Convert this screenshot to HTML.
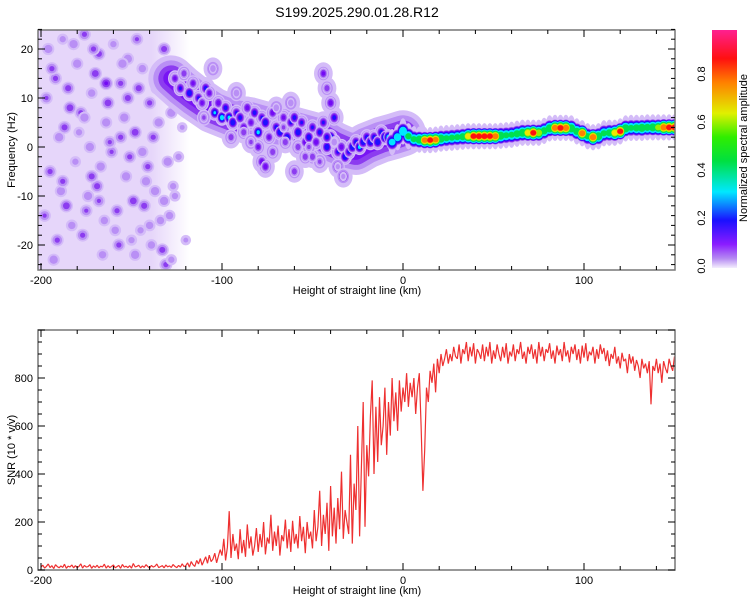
<!DOCTYPE html>
<html><head><meta charset="utf-8"><style>
body{margin:0;background:#fff;}
svg{display:block;font-family:"Liberation Sans",sans-serif;}
</style></head><body>
<svg id="c" width="750" height="600" xmlns="http://www.w3.org/2000/svg">
<defs>
<linearGradient id="cbg" x1="0" y1="1" x2="0" y2="0">
<stop offset="0" stop-color="#f4eefd"/><stop offset="0.04" stop-color="#b58af2"/><stop offset="0.1" stop-color="#8a1cff"/>
<stop offset="0.2" stop-color="#1a10ff"/><stop offset="0.32" stop-color="#00e8ff"/><stop offset="0.45" stop-color="#00e040"/>
<stop offset="0.55" stop-color="#30ee00"/><stop offset="0.65" stop-color="#e0f000"/><stop offset="0.78" stop-color="#ff8000"/>
<stop offset="0.88" stop-color="#ff1010"/><stop offset="1" stop-color="#ff2090"/>
</linearGradient>
<linearGradient id="noiseFade" x1="0" y1="0" x2="1" y2="0">
<stop offset="0" stop-color="#e6d6fa"/><stop offset="0.75" stop-color="#e6d6fa"/><stop offset="1" stop-color="#e6d6fa" stop-opacity="0"/>
</linearGradient>
<clipPath id="topClip"><rect x="38" y="30" width="637" height="240"/></clipPath>
<clipPath id="botClip"><rect x="38" y="330" width="637" height="240"/></clipPath>
</defs>
<text x="357" y="17" text-anchor="middle" font-size="14">S199.2025.290.01.28.R12</text>
<g id="spec" clip-path="url(#topClip)"></g>
<g id="snr" clip-path="url(#botClip)"></g>
<g id="axes"></g>
<rect x="712" y="30" width="25" height="238" fill="url(#cbg)"/>
<text transform="translate(747,148) rotate(-90)" text-anchor="middle" font-size="11">Normalized spectral amplitude</text>
<text x="357" y="294" text-anchor="middle" font-size="11">Height of straight line (km)</text>
<text x="357" y="594" text-anchor="middle" font-size="11">Height of straight line (km)</text>
<text transform="translate(15,150) rotate(-90)" text-anchor="middle" font-size="11">Frequency (Hz)</text>
<text transform="translate(15,450) rotate(-90)" text-anchor="middle" font-size="11">SNR (10 * v/v)</text>
</svg>
<script>
const NS="http://www.w3.org/2000/svg";
// ---- data ----
const xTicks=[-200,-100,0,100];
const freqTicks=[-20,-10,0,10,20];
const snrTicks=[0,200,400,600,800];
const cbTicks=[0.0,0.2,0.4,0.6,0.8];
const snrStartKm=-200, snrStepKm=1;
const snrValues=[12,20,8,15,25,10,18,6,22,14,9,17,11,24,7,16,13,21,9,18,
10,15,26,8,19,12,14,22,7,17,11,20,9,16,13,24,8,18,10,15,
21,9,14,19,7,23,12,16,10,18,8,27,13,15,20,9,17,11,22,14,
8,19,12,16,25,10,14,18,9,21,13,17,11,23,15,10,19,12,26,14,
18,30,12,35,22,15,40,25,48,20,38,55,28,62,35,45,70,30,58,85,
60,130,40,95,245,50,150,80,110,45,170,70,125,55,190,90,140,60,100,175,
75,150,95,200,65,135,110,230,80,160,100,185,60,145,120,210,90,170,75,205,
110,150,90,225,120,180,70,200,130,160,
90,250,120,180,330,100,230,150,280,80,350,140,260,110,300,170,410,130,250,200,
150,480,110,360,250,600,140,430,700,180,520,390,640,790,
400,680,450,720,520,600,760,480,700,560,800,620,740,580,790,660,760,
700,820,680,780,720,800,650,760,820,600,330,500,760,700,830,780,860,740,880,820,900,850,880,920,860,900,870,930,890,
880,940,860,920,900,950,870,930,890,945,860,920,905,880,940,870,930,890,950,860,
915,880,940,900,870,930,885,945,860,910,890,940,870,920,900,950,880,910,860,930,
900,940,880,920,860,950,890,930,870,920,905,945,880,915,860,935,895,920,870,950,
890,915,865,930,900,940,875,920,860,935,885,945,870,910,895,930,860,920,880,940,
900,925,870,915,850,900,880,930,860,890,840,905,870,880,820,900,860,890,830,875,
850,800,880,840,860,820,870,690,850,830,880,820,860,780,870,840,820,880,850,830,890];
const ridgeKm=[-6,-3,0,3,6,9,12,15,18,21,24,27,30,33,36,39,42,45,48,51,54,57,60,63,66,69,72,75,78,81,84,87,90,93,96,99,102,105,108,111,114,117,120,123,126,129,132,135,138,141,144,147,150];
const ridgeHz=[1.0,2.0,3.2,2.2,1.6,1.5,1.4,1.4,1.5,1.7,1.8,1.9,2.0,2.1,2.2,2.2,2.2,2.2,2.2,2.2,2.3,2.4,2.5,2.7,2.9,2.9,2.9,2.9,3.3,3.8,3.9,3.9,3.9,3.8,3.2,2.8,2.2,2.0,2.2,2.8,2.9,2.9,3.2,3.8,3.9,3.9,3.9,4.0,4.0,4.0,4.0,4.0,4.0];
const ridgeAmp=[0.35,0.4,0.45,0.5,0.5,0.6,0.85,0.92,0.85,0.6,0.5,0.5,0.5,0.55,0.75,0.92,0.93,0.93,0.92,0.88,0.6,0.5,0.5,0.55,0.6,0.75,0.92,0.7,0.55,0.6,0.88,0.93,0.9,0.6,0.55,0.88,0.5,0.9,0.6,0.5,0.55,0.75,0.92,0.6,0.5,0.55,0.6,0.55,0.6,0.65,0.9,0.93,0.92];
const bandKm=[-128,-122,-115,-105,-95,-85,-75,-65,-55,-45,-38,-32,-26,-20,-12,-5,0];
const bandHz=[14,12,10,7.5,6,5.5,4.5,4,3,2,0.5,-0.5,-1,0.3,1.5,2.2,2.8];
const cloudKm=[-126,-123,-121,-118,-116,-113,-111,-109,-107,-104,-102,-100,-98,-96,-94,-92,-90,-88,-86,-84,-82,-80,-78,-76,-74,-72,-70,-68,-66,-64,-62,-60,-58,-56,-54,-52,-50,-48,-46,-44,-42,-40,-38,-36,-34,-32,-30,-28,-26,-24,-22,-20,-18,-16,-14,-12,-10,-8,-95,-88,-80,-72,-65,-58,-50,-78,-76,-60,-54,-46,-44,-42,-40,-38,-42,-105,-92,-70,-62,-36,-33,-110,-84,-66,-52,-38];
const cloudHz=[14,12,15,11,13,10,9,12,11,7,9,6,8,6,5,7,6,4,8,5,7,3,6,5,2,7,4,3,6,2,5,6,3,5,1,2,4,1,3,5,0,2,1,-1,0,-2,-1,0,1,0,1,2,1,2,1,3,2,2,2,3,0,-1,1,0,-2,-3,-4,-5,-2,-3,15,12,9,6,2,16,11,8,9,-4,-6,6,1,4,0,1];
const cloudAmp=[0.18,0.22,0.15,0.3,0.18,0.22,0.18,0.25,0.18,0.32,0.2,0.4,0.25,0.35,0.3,0.22,0.25,0.2,0.2,0.18,0.25,0.35,0.22,0.3,0.18,0.2,0.25,0.3,0.18,0.3,0.22,0.25,0.3,0.22,0.2,0.28,0.22,0.2,0.25,0.22,0.3,0.35,0.22,0.22,0.2,0.3,0.22,0.3,0.25,0.35,0.3,0.25,0.3,0.25,0.3,0.25,0.35,0.4,0.15,0.15,0.18,0.15,0.15,0.15,0.15,0.2,0.2,0.15,0.15,0.12,0.18,0.15,0.2,0.25,0.25,0.1,0.1,0.1,0.1,0.08,0.08,0.12,0.12,0.12,0.12,0.1];
const noiseKm=[-196,-192,-188,-184,-180,-176,-172,-168,-164,-160,-156,-152,-148,-144,-140,-136,-132,-128,-124,-195,-190,-186,-181,-177,-173,-169,-165,-161,-157,-153,-149,-145,-141,-137,-133,-129,-197,-193,-187,-183,-178,-174,-170,-166,-162,-158,-154,-150,-146,-142,-138,-134,-130,-126,-194,-189,-185,-179,-175,-171,-167,-163,-159,-155,-151,-147,-143,-139,-135,-131,-127,-198,-191,-182,-172,-164,-156,-148,-140,-132,-124,-120,-188,-176,-168,-152,-144,-136,-128,-122];
const noiseHz=[20,14,22,8,17,23,11,19,5,21,13,18,3,16,9,12,20,7,-2,-5,2,-12,-3,-18,0,-8,-15,-1,-20,-6,-11,-17,-4,-9,-21,-14,10,-23,4,-16,7,-10,15,-22,1,-13,6,-19,12,-7,2,-15,-3,-10,16,-9,12,3,-13,20,-4,9,-17,17,-2,22,-12,-20,5,-24,-8,-14,-19,21,-6,13,2,-22,-16,-11,8,-19,-7,6,-11,10,-1,15,-23,4];
const noiseAmp=[0.1,0.12,0.08,0.14,0.1,0.12,0.09,0.13,0.1,0.08,0.12,0.1,0.14,0.09,0.12,0.11,0.13,0.1,0.08,0.12,0.1,0.14,0.08,0.12,0.1,0.13,0.09,0.11,0.12,0.1,0.14,0.08,0.12,0.1,0.13,0.09,0.11,0.1,0.13,0.09,0.12,0.1,0.14,0.09,0.11,0.12,0.1,0.08,0.13,0.1,0.12,0.09,0.1,0.08,0.12,0.1,0.13,0.08,0.11,0.12,0.1,0.14,0.09,0.1,0.12,0.11,0.13,0.09,0.1,0.12,0.08,0.11,0.12,0.1,0.13,0.16,0.12,0.1,0.09,0.1,0.08,0.07,0.12,0.1,0.11,0.13,0.1,0.09,0.08,0.07];
// ---- axes functions ----
const xKm=k=>403+k*1.81;
const yHz=h=>147-h*4.9;
const ySnr=v=>570-v*0.24;
const yCb=v=>266-v*240;
function cmap(l){
  const st=[[0,[236,224,252]],[0.05,[196,164,246]],[0.1,[140,60,240]],[0.15,[115,10,245]],[0.2,[30,16,255]],[0.3,[0,230,255]],[0.45,[0,224,80]],[0.6,[150,240,0]],[0.7,[240,230,0]],[0.8,[255,128,0]],[0.9,[255,16,16]],[1,[255,32,140]]];
  for(let i=1;i<st.length;i++){if(l<=st[i][0]){const a=st[i-1],b=st[i],t=(l-a[0])/(b[0]-a[0]);return 'rgb('+a[1].map((c,j)=>Math.round(c+(b[1][j]-c)*t)).join(',')+')';}}
  return 'rgb(255,32,140)';
}
const spec=document.getElementById('spec');
function el(tag,attrs,parent){const e=document.createElementNS(NS,tag);for(const k in attrs)e.setAttribute(k,attrs[k]);parent.appendChild(e);return e;}
const nf=el('rect',{x:38,y:30,width:xKm(-118)-38,height:240,fill:'url(#noiseFade)'},spec);


const levels=[0.03,0.06,0.1,0.15,0.2,0.3,0.45,0.6,0.7,0.8,0.9];
function blob(k,h,a,rx,ry,name){
  const g=el('g',{},spec);
  
  
  for(const l of levels){ if(l>=a) break;
    const f=(1-l/a)*1.1+0.25;
    el('ellipse',{cx:xKm(k),cy:yHz(h),rx:rx*f,ry:ry*f,fill:cmap(l)},g);
  }
}
for(let i=0;i<noiseKm.length;i++) blob(noiseKm[i],noiseHz[i],noiseAmp[i],6,6,'noise-blob');
for(let i=0;i<cloudKm.length;i++) blob(cloudKm[i],cloudHz[i],0.08,10,12,'cloud-halo');
let bd='';
bandKm.forEach((k,i)=>{bd+=(i?'L':'M')+xKm(k).toFixed(1)+','+yHz(bandHz[i]).toFixed(1);});
[[46,0.03],[36,0.06],[26,0.1],[16,0.14]].forEach(([w,l])=>{
  const p=el('path',{d:bd,fill:'none',stroke:cmap(l),'stroke-width':w,'stroke-linecap':'round','stroke-linejoin':'round'},spec);
  
  
});
for(let i=0;i<cloudKm.length;i++) blob(cloudKm[i],cloudHz[i],0.17,6,7,'cloud-body');
for(let i=0;i<cloudKm.length;i++) blob(cloudKm[i],cloudHz[i],cloudAmp[i],4,5,'cloud-blob');
for(let i=0;i<ridgeKm.length;i++) blob(ridgeKm[i],ridgeHz[i],0.08,4.5,14,'ridge-halo');
for(let lv of levels){
  for(let i=0;i<ridgeKm.length;i++){ const a=ridgeAmp[i]; if(lv>=a) continue;
    const f=(1-lv/a)*0.8+0.3;
    const e=el('ellipse',{cx:xKm(ridgeKm[i]),cy:yHz(ridgeHz[i]),rx:4.5*f+1.5,ry:8*f,fill:cmap(lv)},spec);
    
    
  }
}
const snr=document.getElementById('snr');
let d='';
snrValues.forEach((v,i)=>{d+=(i?'L':'M')+xKm(snrStartKm+i*snrStepKm).toFixed(1)+','+ySnr(v).toFixed(1);});
const ln=el('path',{d:d,fill:'none',stroke:'#ee3030','stroke-width':1.2,'stroke-linejoin':'bevel'},snr);


const ax=document.getElementById('axes');
function frame(y0,name){const r=el('rect',{x:38,y:y0,width:637,height:240,fill:'none',stroke:'#777','stroke-width':1.5},ax);
  }
frame(30,'top-plot-frame');frame(330,'bottom-plot-frame');
function xAxis(y0,y1,name){
  for(let k=-200;k<=150;k+=20){const x=xKm(k),len=(k%100===0)?7:4;
    el('line',{x1:x,y1:y1,x2:x,y2:y1-len,stroke:'#000'},ax);el('line',{x1:x,y1:y0,x2:x,y2:y0+len,stroke:'#000'},ax);}
  xTicks.forEach(k=>{const t=el('text',{x:xKm(k),y:y1+14,'text-anchor':'middle','font-size':11},ax);t.textContent=k;
    });
}
xAxis(30,270,'x-tick-label-top');xAxis(330,570,'x-tick-label-bottom');
for(let h=-24;h<=24;h+=2){const y=yHz(h),len=(h%10===0)?7:4;
  el('line',{x1:38,y1:y,x2:38+len,y2:y,stroke:'#000'},ax);el('line',{x1:675,y1:y,x2:675-len,y2:y,stroke:'#000'},ax);}
freqTicks.forEach(h=>{const t=el('text',{x:33,y:yHz(h)+4,'text-anchor':'end','font-size':11},ax);t.textContent=h;
  });
for(let v=0;v<=1000;v+=50){const y=ySnr(v),len=(v%200===0)?7:4;
  el('line',{x1:38,y1:y,x2:38+len,y2:y,stroke:'#000'},ax);el('line',{x1:675,y1:y,x2:675-len,y2:y,stroke:'#000'},ax);}
snrTicks.forEach(v=>{const t=el('text',{x:33,y:ySnr(v)+4,'text-anchor':'end','font-size':11},ax);t.textContent=v;
  });
cbTicks.forEach(v=>{const y=yCb(v);const t=el('text',{transform:'translate(705,'+y+') rotate(-90)','text-anchor':'middle','font-size':11},ax);
  t.textContent=v.toFixed(1);});
</script>
</body></html>
